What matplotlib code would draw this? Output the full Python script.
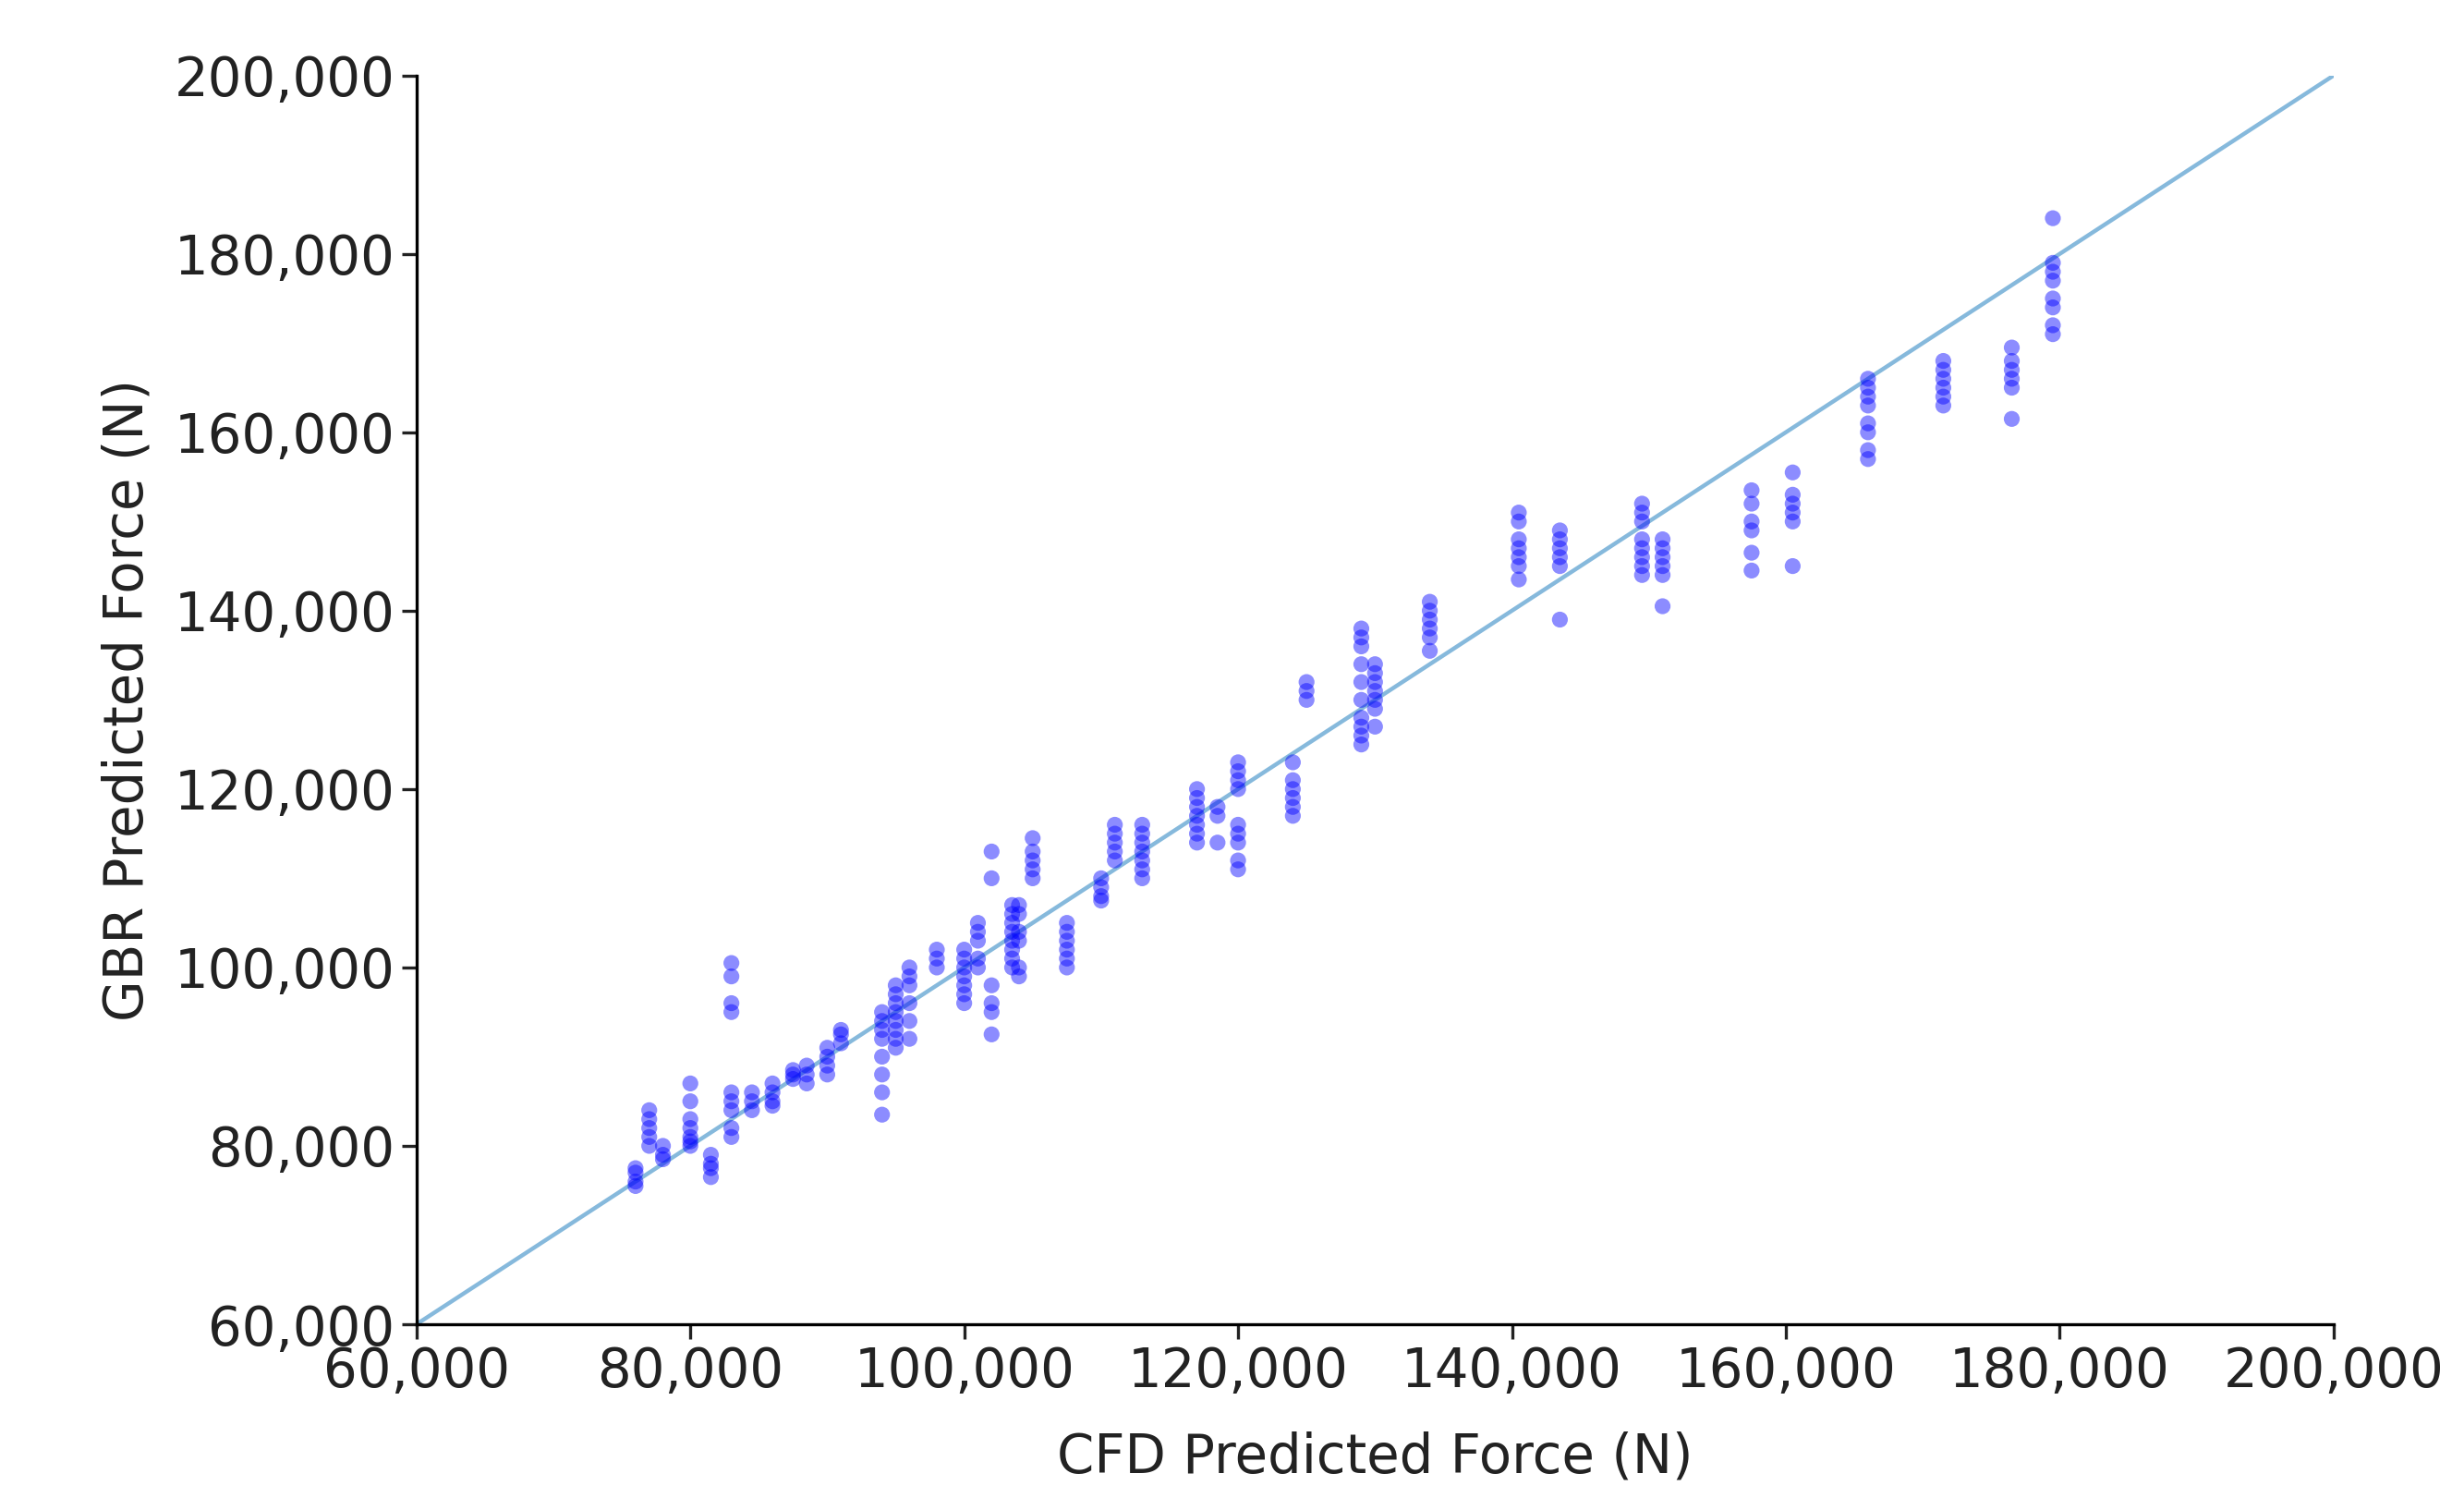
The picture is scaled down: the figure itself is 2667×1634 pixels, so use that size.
import matplotlib
matplotlib.use("Agg")
import matplotlib.pyplot as plt
from matplotlib.ticker import FuncFormatter

cfd_x = [76, 77, 78, 80, 81.5, 83, 84.5, 86, 87.5, 88.5, 90, 91, 94, 95, 96, 98, 100, 101, 102,
         103.5, 104, 105, 107.5, 110, 111, 113, 117, 118.5, 120, 124, 125, 129, 130, 134,
         140.5, 143.5, 149.5, 151, 157.5, 160.5, 166, 171.5, 176.5, 179.5]
gbr_y = [
    [75.5, 76, 77, 77.5],
    [80, 81, 82, 83, 84],
    [78.5, 79, 80],
    [80, 80.5, 81, 82, 83, 85, 87],
    [76.5, 77.5, 78, 79],
    [81, 82, 84, 85, 86, 95, 96, 99, 100.5],
    [84, 85, 86],
    [84.5, 85, 86, 87],
    [87.5, 88, 88.5],
    [87, 88, 89],
    [88, 89, 90, 91],
    [91.5, 92.5, 93],
    [83.5, 86, 88, 90, 92, 93, 94, 95],
    [91, 92, 93, 94, 95, 96, 97, 98],
    [92, 94, 96, 98, 99, 100],
    [100, 101, 102],
    [96, 97, 98, 99, 100, 101, 102],
    [100, 101, 103, 104, 105],
    [92.5, 95, 96, 98, 110, 113],
    [100, 101, 102, 103, 104, 105, 106, 107],
    [99, 100, 103, 104, 106, 107],
    [110, 111, 112, 113, 114.5],
    [100, 101, 102, 103, 104, 105],
    [107.5, 108, 109, 110],
    [112, 113, 114, 115, 116],
    [110, 111, 112, 113, 114, 115, 116],
    [114, 115, 116, 117, 118, 119, 120],
    [114, 117, 118],
    [111, 112, 114, 115, 116, 120, 121, 122, 123],
    [117, 118, 119, 120, 121, 123],
    [130, 131, 132],
    [125, 126, 127, 128, 130, 132, 134, 136, 137, 138],
    [127, 129, 130, 131, 132, 133, 134],
    [135.5, 137, 138, 139, 140, 141],
    [143.5, 145, 146, 147, 148, 150, 151],
    [139, 145, 146, 147, 148, 149],
    [144, 145, 146, 147, 148, 150, 151, 152],
    [140.5, 144, 145, 146, 147, 148],
    [144.5, 146.5, 149, 150, 152, 153.5],
    [145, 150, 151, 152, 153, 155.5],
    [157, 158, 160, 161, 163, 164, 165, 166],
    [163, 164, 165, 166, 167, 168],
    [161.5, 165, 166, 167, 168, 169.5],
    [171, 172, 174, 175, 177, 178, 179, 184],
]
line_range = [60000, 200000]

xs, ys = [], []
for x, yl in zip(cfd_x, gbr_y):
    for y in yl:
        xs.append(x * 1000)
        ys.append(y * 1000)

fig = plt.figure(figsize=(16.67, 10.2125), dpi=160)
ax = fig.add_axes([0.169, 0.123, 0.778, 0.827])
ax.plot(line_range, line_range, color="#86b9dc", lw=2)
ax.scatter(xs, ys, s=60, color="blue", alpha=0.45, edgecolors="none", zorder=3)
ax.set_xlim(60000, 200000)
ax.set_ylim(60000, 200000)
ax.set_xticks(range(60000, 200001, 20000))
ax.set_yticks(range(60000, 200001, 20000))
fmt = FuncFormatter(lambda v, p: f"{int(v):,}")
ax.xaxis.set_major_formatter(fmt)
ax.yaxis.set_major_formatter(fmt)
ax.tick_params(labelsize=26, width=1.5, length=7, colors="#222222")
for s in ["top", "right"]:
    ax.spines[s].set_visible(False)
for s in ["left", "bottom"]:
    ax.spines[s].set_linewidth(1.5)
ax.set_xlabel("CFD Predicted Force (N)", fontsize=26, color="#222222", labelpad=16)
ax.set_ylabel("GBR Predicted Force (N)", fontsize=26, color="#222222", labelpad=10)
fig.savefig("out.png", dpi=160)
